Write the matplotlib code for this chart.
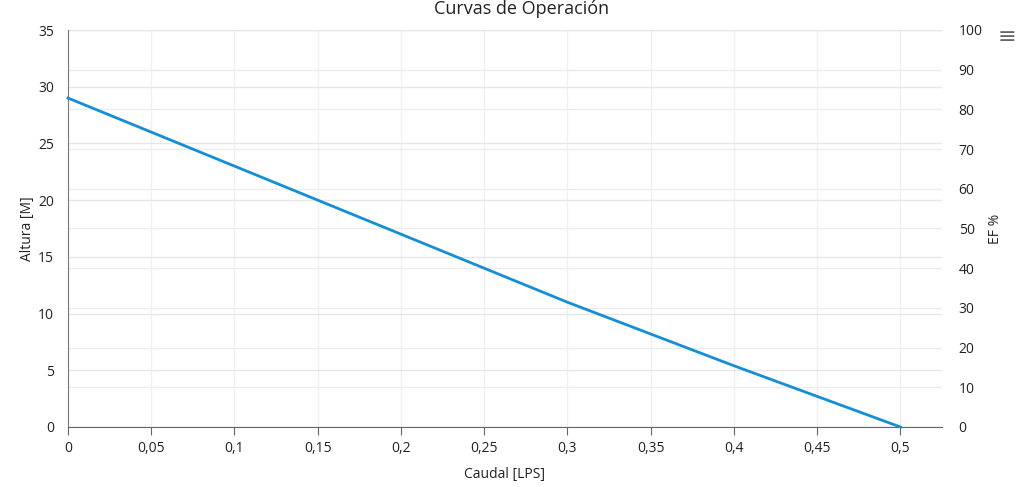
import matplotlib
matplotlib.use("Agg")
import matplotlib.pyplot as plt
from matplotlib.ticker import FuncFormatter

plt.rcParams['font.family'] = ['Open Sans', 'DejaVu Sans']

# Curve data
caudal = [0, 0.05, 0.1, 0.15, 0.2, 0.25, 0.3, 0.35, 0.4, 0.45, 0.5]
altura = [29, 26, 23, 20, 17, 14, 11, 8.2, 5.4, 2.7, 0]

x_ticks = [0, 0.05, 0.1, 0.15, 0.2, 0.25, 0.3, 0.35, 0.4, 0.45, 0.5]
left_ticks = [0, 5, 10, 15, 20, 25, 30, 35]
right_ticks = [0, 10, 20, 30, 40, 50, 60, 70, 80, 90, 100]

txt = '#222222'

fig = plt.figure(figsize=(10.24, 4.87), dpi=100)
ax = fig.add_axes([68 / 1024, 1 - 427 / 487, (942 - 68) / 1024, (427 - 30) / 487])
ax2 = ax.twinx()

ax.plot(caudal, altura, color='#128fd6', lw=2, zorder=5, clip_on=False)

ax.set_xlim(0, 0.525)
ax.set_ylim(0, 35)
ax2.set_ylim(0, 100)

ax.set_xticks(x_ticks)
ax.set_yticks(left_ticks)
ax2.set_yticks(right_ticks)

comma = FuncFormatter(lambda v, p: ('%g' % v).replace('.', ','))
ax.xaxis.set_major_formatter(comma)

ax.grid(axis='x', color='#f0f0f0', lw=1)
ax.grid(axis='y', color='#e6e6e6', lw=1)
ax2.grid(axis='y', color='#ececec', lw=1)
ax.set_axisbelow(True)
ax2.set_axisbelow(True)
ax.set_zorder(ax2.get_zorder() + 1)
ax.patch.set_visible(False)

for s in ['top', 'right']:
    ax.spines[s].set_visible(False)
for s in ['top', 'right', 'left', 'bottom']:
    ax2.spines[s].set_visible(False)
ax.spines['left'].set_color('#777777')
ax.spines['bottom'].set_color('#666666')

ax.tick_params(axis='x', length=6, color='#666666', labelsize=10, labelcolor=txt, pad=4)
ax.tick_params(axis='y', length=0, labelsize=10, labelcolor=txt, pad=10)
ax2.tick_params(axis='y', length=0, labelsize=10, labelcolor=txt, pad=12)

ax.set_xlabel('Caudal [LPS]', fontsize=10, color=txt, labelpad=8)
ax.set_ylabel('Altura [M]', fontsize=10, color=txt, labelpad=2)
ax2.set_ylabel('EF %', fontsize=10, color=txt, labelpad=4)

fig.text(522 / 1024, 1 - 9 / 487, 'Curvas de Operación', ha='center', va='center',
         fontsize=13, color=txt)
fig.text(1007 / 1024, 1 - 37 / 487, '≡', ha='center', va='center',
         fontsize=16, color='#666666', family=['DejaVu Sans'])

fig.savefig('out.png', dpi=100)
